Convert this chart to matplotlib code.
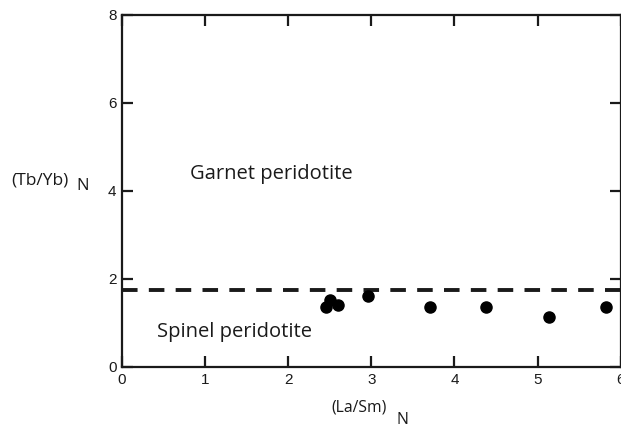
import matplotlib
matplotlib.use("Agg")
import matplotlib.pyplot as plt

# amostras: (La/Sm)N e (Tb/Yb)N
la_sm = [2.46, 2.50, 2.60, 2.96, 3.70, 4.38, 5.14, 5.82]
tb_yb = [1.37, 1.53, 1.42, 1.61, 1.36, 1.36, 1.13, 1.36]
limite_granada = 1.75

fig = plt.figure(figsize=(6.21, 4.30), dpi=100)
W, H = 621, 430
ax = fig.add_axes([122 / W, 63 / H, 498.7 / W, 352 / H])

ax.axhline(limite_granada, color='#1a1a1a', lw=2.8, dashes=(4.0, 2.9))
ax.scatter(la_sm, tb_yb, s=64, color='black', zorder=3, clip_on=False)

ax.set_xlim(0, 6)
ax.set_ylim(0, 8)
ax.set_xticks(range(0, 7))
ax.set_yticks(range(0, 9, 2))
for s in ax.spines.values():
    s.set_linewidth(1.6)
    s.set_color('#1a1a1a')
ax.tick_params(direction='in', length=8, width=1.6, top=True, right=True,
               labelsize=11, pad=4, colors='#1a1a1a')
for lab in ax.get_xticklabels() + ax.get_yticklabels():
    lab.set_family('Liberation Sans')

fonte = 'Open Sans'
ax.text(0.82, 4.38, 'Garnet peridotite', fontsize=14.5, family=fonte, color='#1a1a1a', va='center')
ax.text(0.42, 0.80, 'Spinel peridotite', fontsize=14.5, family=fonte, color='#1a1a1a', va='center')

# rótulos dos eixos com subscrito N
fig.text(331 / W, 1 - 408 / H, '(La/Sm)', fontsize=11.3, family=fonte, color='#1a1a1a', va='center')
fig.text(397 / W, 1 - 420 / H, 'N', fontsize=11.3, family=fonte, color='#1a1a1a', va='center')
fig.text(11 / W, 1 - 180 / H, '(Tb/Yb)', fontsize=12.5, family=fonte, color='#1a1a1a', va='center')
fig.text(76 / W, 1 - 186 / H, 'N', fontsize=12, family=fonte, color='#1a1a1a', va='center')

fig.savefig('out.png', dpi=100)
